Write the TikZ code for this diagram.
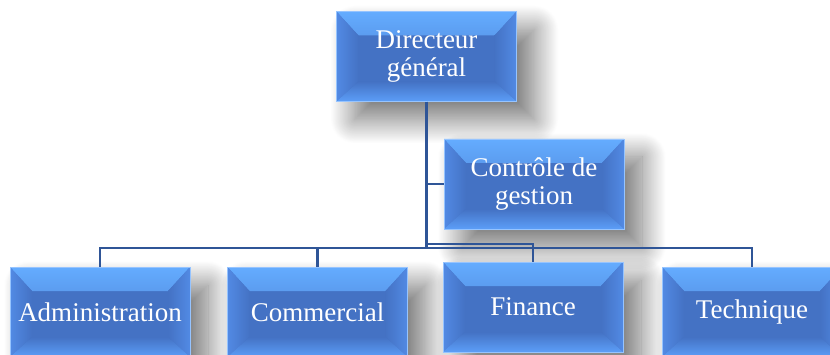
\documentclass[tikz,border=0pt]{standalone}
\usepackage{fontspec}
\setmainfont{Liberation Serif}
\usepackage{tikz}
\usetikzlibrary{shadows.blur}

\definecolor{boxface}{RGB}{68,114,196}
\definecolor{bevtop}{RGB}{100,172,255}
\definecolor{bevside}{RGB}{82,138,228}
\definecolor{bevbot}{RGB}{92,158,248}
\definecolor{boxedge}{RGB}{150,196,255}
\definecolor{linkcol}{RGB}{47,85,151}

\tikzset{
  orgbox/.style={draw=boxedge, line width=0.8pt, fill=boxface,
    minimum width=180, minimum height=90, inner sep=0pt,
    align=center, text=white, font=\fontsize{27}{28}\selectfont,
    blur shadow={shadow xshift=18pt, shadow yshift=-18pt,
      shadow blur radius=24pt, shadow blur steps=40, shadow opacity=55},
    path picture={
      % bevel faces
      \shade[top color=bevtop, bottom color=boxface]
        (path picture bounding box.north west) -- (path picture bounding box.north east)
        -- ([shift={(-22,-24)}]path picture bounding box.north east)
        -- ([shift={(22,-24)}]path picture bounding box.north west) -- cycle;
      \shade[left color=bevside, right color=boxface]
        (path picture bounding box.north west) -- ([shift={(22,-24)}]path picture bounding box.north west)
        -- ([shift={(22,20)}]path picture bounding box.south west)
        -- (path picture bounding box.south west) -- cycle;
      \shade[left color=boxface, right color=bevside]
        (path picture bounding box.north east) -- ([shift={(-22,-24)}]path picture bounding box.north east)
        -- ([shift={(-22,20)}]path picture bounding box.south east)
        -- (path picture bounding box.south east) -- cycle;
      \shade[top color=boxface, bottom color=bevbot]
        (path picture bounding box.south west) -- (path picture bounding box.south east)
        -- ([shift={(-22,20)}]path picture bounding box.south east)
        -- ([shift={(22,20)}]path picture bounding box.south west) -- cycle;
    }},
  link/.style={draw=linkcol, line width=2.5pt}
}

\begin{document}
\begin{tikzpicture}[x=1pt,y=1pt]
\useasboundingbox (0,0) rectangle (830,354);
\clip (0,0) rectangle (830,354);

% top of the chart
\node[orgbox] (dg) at (426.5,297.5) {Directeur\\général};
\node[orgbox] (cg) at (534,170) {Contrôle de\\gestion};

% departments
\node[orgbox] (adm) at (100,42) {Administration};
\node[orgbox] (com) at (317.5,42) {Commercial};
\node[orgbox] (fin) at (533,47) {Finance};
\node[orgbox] (tec) at (752,42) {Technique};

% connectors
\coordinate (bus) at (0,106);
\coordinate (finbus) at (0,110);
\draw[link] (dg.south) |- (cg.west);
\draw[link] (dg.south) -- (dg.south |- bus) -| (adm.north);
\draw[link] (dg.south) -- (dg.south |- bus) -| (com.north);
\draw[link] (dg.south) -- (dg.south |- finbus) -| (fin.north);
\draw[link] (dg.south) -- (dg.south |- bus) -| (tec.north);
\end{tikzpicture}
\end{document}
